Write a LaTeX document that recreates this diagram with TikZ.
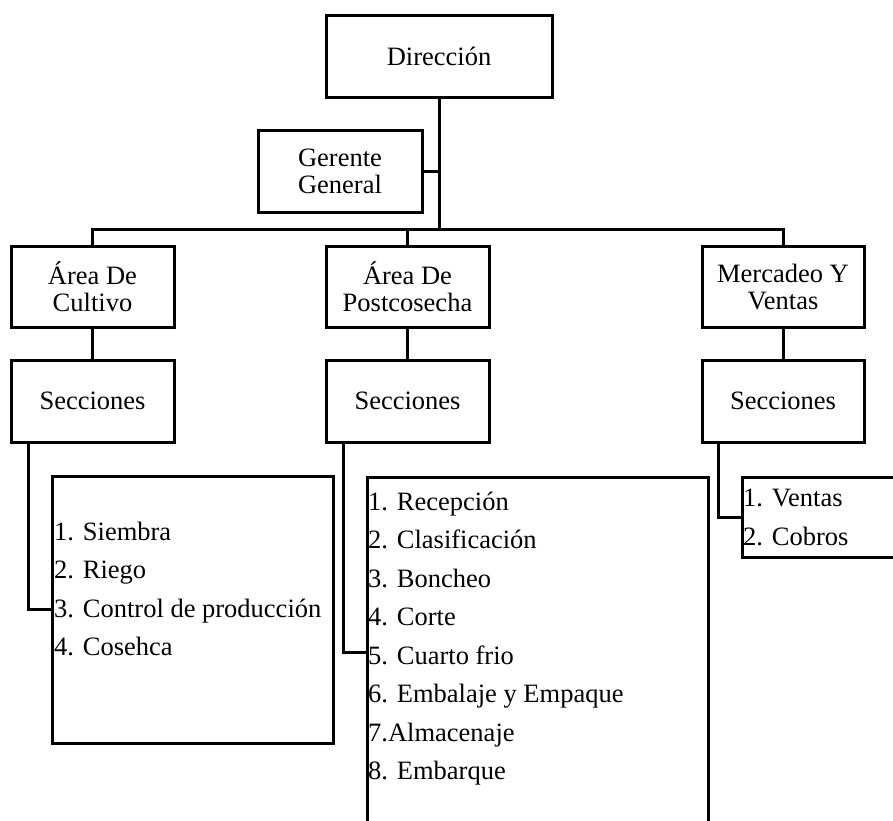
\documentclass[tikz,border=0pt]{standalone}
\usepackage{fontspec}
\setmainfont{Liberation Serif}
\begin{document}
\begin{tikzpicture}[x=1pt,y=-1pt,
  box/.style={draw=black, line width=3pt, inner sep=0pt, align=center,
    font=\fontsize{26.5}{27}\selectfont},
  item/.style={inner sep=0pt, anchor=base west, font=\fontsize{26.5}{27}\selectfont},
  conn/.style={draw=black, line width=3pt}]
\useasboundingbox (0,0) rectangle (893,820);
\clip (0,0) rectangle (893,820);
\fill[white] (0,0) rectangle (893,820);
% boxes
\node[box, minimum width=226, minimum height=82] (dir) at (439,56) {Dirección};
\node[box, minimum width=164, minimum height=82] (ger) at (340,171) {Gerente\\General};
\node[box, minimum width=163, minimum height=81] (ac) at (92.5,286.5) {Área De\\Cultivo};
\node[box, minimum width=163, minimum height=81] (ap) at (407.5,286.5) {Área De\\Postcosecha};
\node[box, minimum width=162, minimum height=81] (mv) at (783,286.5) {Mercadeo Y\\Ventas};
\node[box, minimum width=163, minimum height=82] (s1) at (92.5,401) {Secciones};
\node[box, minimum width=163, minimum height=82] (s2) at (407.5,401) {Secciones};
\node[box, minimum width=162, minimum height=82] (s3) at (783,401) {Secciones};
\node[box, minimum width=281, minimum height=267] (l1) at (192.5,609.5) {};
\node[box, minimum width=341, minimum height=363] (l2) at (537.5,658.5) {};
\node[box, minimum width=178, minimum height=80] (l3) at (831,517) {};
% list texts
\node[item] (a1) at (54,540) {1. Siembra};
\node[item] (a2) at (54,578.5) {2. Riego};
\node[item] (a3) at (54,617) {3. Control de producción};
\node[item] (a4) at (54,655.5) {4. Cosehca};
\node[item] (b1) at (368,510) {1. Recepción};
\node[item] (b2) at (368,548.5) {2. Clasificación};
\node[item] (b3) at (368,587) {3. Boncheo};
\node[item] (b4) at (368,625.5) {4. Corte};
\node[item] (b5) at (368,664) {5. Cuarto frio};
\node[item] (b6) at (368,702.5) {6. Embalaje y Empaque};
\node[item] (b7) at (368,741) {7.Almacenaje};
\node[item] (b8) at (368,779.5) {8. Embarque};
\node[item] (c1) at (743,506) {1. Ventas};
\node[item] (c2) at (743,545) {2. Cobros};
% connectors
\coordinate (bus) at (439,229);
\coordinate (k1) at (28,609);
\coordinate (k2) at (343,652);
\coordinate (k3) at (718,517);
\draw[conn] (dir.south) -- (bus);
\draw[conn] (ger.east) -- (ger.east -| bus);
\draw[conn] (ac.north) -- (ac.north |- bus) -- (mv.north |- bus) -- (mv.north);
\draw[conn] (ap.north) -- (ap.north |- bus);
\draw[conn] (ac.south) -- (s1.north);
\draw[conn] (ap.south) -- (s2.north);
\draw[conn] (mv.south) -- (s3.north);
\draw[conn] (s1.south -| k1) |- (l1.west |- k1);
\draw[conn] (s2.south -| k2) |- (l2.west |- k2);
\draw[conn] (s3.south -| k3) |- (l3.west |- k3);
\end{tikzpicture}
\end{document}
